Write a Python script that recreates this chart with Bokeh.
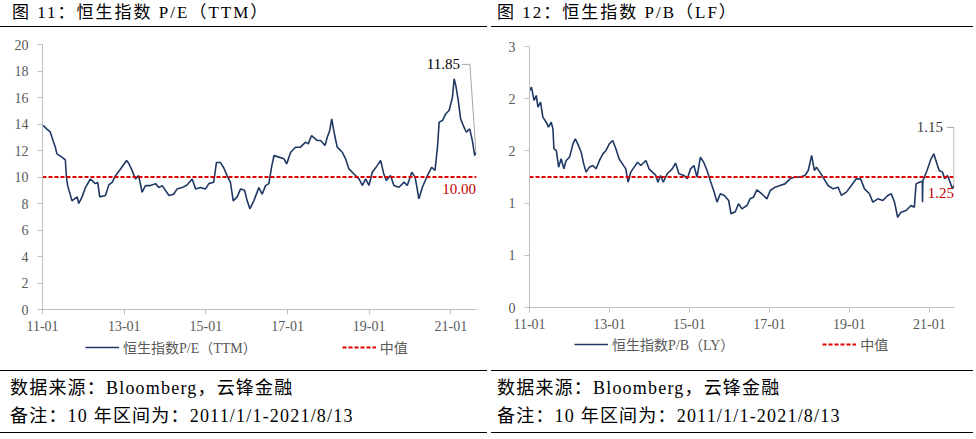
import pandas as pd
from bokeh.plotting import figure
from bokeh.models import (ColumnDataSource, Range1d, FixedTicker, Legend, LegendItem,
                          Label, Div)
from bokeh.layouts import row, column
from bokeh.embed import file_html
from bokeh.resources import INLINE

# ---------------- data ----------------
pe_dates = [
    "2011-01-06", "2011-02-12", "2011-03-11", "2011-04-05", "2011-04-26", "2011-05-10", "2011-06-24",
    "2011-07-24", "2011-08-03", "2011-08-14", "2011-09-22", "2011-11-07", "2011-11-21", "2011-12-21",
    "2012-01-20", "2012-03-04", "2012-04-18", "2012-05-09", "2012-05-27", "2012-07-17", "2012-08-16",
    "2012-09-15", "2012-10-15", "2012-11-29",
    "2013-01-22", "2013-02-12", "2013-03-12", "2013-04-11", "2013-05-10", "2013-06-10", "2013-07-10",
    "2013-08-23", "2013-10-08", "2013-11-07", "2013-12-07",
    "2014-02-05", "2014-03-19", "2014-04-19", "2014-06-03", "2014-07-17", "2014-09-01", "2014-10-01",
    "2014-11-15", "2014-12-29",
    "2015-01-28", "2015-03-12", "2015-04-06", "2015-05-11", "2015-06-10", "2015-07-10", "2015-08-09",
    "2015-09-03", "2015-10-08", "2015-11-08", "2015-12-13",
    "2016-01-06", "2016-01-30", "2016-03-05", "2016-04-19", "2016-05-19", "2016-06-18", "2016-07-18",
    "2016-08-11", "2016-09-02", "2016-10-16", "2016-11-30", "2016-12-24",
    "2017-01-29", "2017-03-13", "2017-04-27", "2017-06-11", "2017-07-05", "2017-08-04", "2017-09-24",
    "2017-10-24", "2017-12-02", "2017-12-22",
    "2018-01-13", "2018-01-31", "2018-02-21", "2018-03-21", "2018-05-05", "2018-06-04", "2018-07-04",
    "2018-08-18", "2018-10-02", "2018-11-01", "2018-12-01", "2018-12-30",
    "2019-01-29", "2019-03-14", "2019-04-13", "2019-05-12", "2019-06-03", "2019-07-11", "2019-08-10",
    "2019-09-25", "2019-11-09", "2019-12-08",
    "2020-01-17", "2020-02-16", "2020-03-21", "2020-04-21", "2020-06-05", "2020-07-13", "2020-08-12",
    "2020-09-03", "2020-09-18", "2020-10-17", "2020-11-16", "2020-12-16",
    "2021-01-15", "2021-01-30", "2021-02-14", "2021-03-08", "2021-03-29", "2021-04-28", "2021-05-19",
    "2021-06-18", "2021-07-12", "2021-08-02", "2021-08-13",
]
pe_values = [
    13.9, 13.6, 13.4, 12.75, 12.25, 11.75, 11.5, 11.3, 10.0, 9.35, 8.2, 8.5, 8.0, 8.5,
    9.2, 9.85, 9.5, 9.6, 8.5, 8.6, 9.4, 9.6, 10.1, 10.6,
    11.25, 11.0, 10.5, 9.85, 10.1, 8.85, 9.35, 9.35, 9.5, 9.2, 9.35,
    8.6, 8.7, 9.1, 9.2, 9.4, 9.85, 9.1, 9.2, 9.1,
    9.5, 9.6, 11.1, 11.1, 10.7, 10.1, 9.6, 8.2, 8.5, 9.1, 9.0,
    8.2, 7.6, 8.2, 9.2, 8.7, 9.35, 9.5, 10.74, 11.62, 11.5, 11.37, 10.99,
    11.87, 12.25, 12.25, 12.63, 12.5, 13.13, 12.75, 12.75, 12.38, 13.0,
    13.5, 14.39, 13.38, 12.25, 11.87, 11.37, 10.61, 10.23, 9.86, 9.36, 9.86, 9.36,
    10.36, 10.86, 11.25, 10.23, 9.74, 10.11, 9.36, 9.23, 9.61, 9.36,
    10.36, 9.99, 8.35, 9.23, 10.11, 10.74, 10.49, 12.25, 14.14, 14.26, 14.77, 15.02,
    16.03, 17.41, 16.9, 15.77, 14.39, 13.76, 13.38, 13.63, 12.75, 11.62, 11.85,
]
pe_median = 10.0

pb_dates = [
    "2011-01-03", "2011-01-19", "2011-02-12", "2011-03-04", "2011-03-19", "2011-04-12", "2011-05-03",
    "2011-06-03", "2011-06-24", "2011-07-18", "2011-08-03", "2011-08-12", "2011-09-03", "2011-09-24",
    "2011-10-17", "2011-11-11", "2011-12-02",
    "2012-01-02", "2012-02-02", "2012-02-23", "2012-03-17", "2012-04-17", "2012-05-10", "2012-06-01",
    "2012-07-01", "2012-08-01", "2012-09-01", "2012-10-01", "2012-11-01", "2012-11-30", "2012-12-30",
    "2013-01-30", "2013-02-28", "2013-03-29", "2013-04-29", "2013-05-29", "2013-06-20", "2013-07-14",
    "2013-08-14", "2013-09-14", "2013-10-14", "2013-11-29", "2013-12-28",
    "2014-01-28", "2014-02-28", "2014-03-19", "2014-04-13", "2014-05-07", "2014-06-12", "2014-07-28",
    "2014-08-27", "2014-09-27", "2014-11-12", "2014-12-12",
    "2015-01-11", "2015-02-11", "2015-03-11", "2015-04-11", "2015-05-11", "2015-06-11", "2015-07-10",
    "2015-08-10", "2015-09-10", "2015-10-10", "2015-11-16", "2015-12-25",
    "2016-01-16", "2016-02-24", "2016-03-24", "2016-04-24", "2016-06-09", "2016-07-08", "2016-08-08",
    "2016-09-08", "2016-10-23", "2016-12-08",
    "2017-01-08", "2017-02-22", "2017-04-07", "2017-05-22", "2017-07-07", "2017-08-22", "2017-10-06",
    "2017-11-21", "2017-12-21",
    "2018-01-21", "2018-02-15", "2018-03-06", "2018-04-06", "2018-05-05", "2018-06-20", "2018-08-05",
    "2018-09-20", "2018-10-20", "2018-12-04",
    "2019-01-19", "2019-03-04", "2019-04-13", "2019-05-19", "2019-07-03", "2019-08-03", "2019-09-18",
    "2019-11-03", "2019-12-17",
    "2020-01-18", "2020-02-17", "2020-03-17", "2020-04-17", "2020-06-02", "2020-07-17", "2020-08-16",
    "2020-09-01", "2020-10-01", "2020-10-28", "2020-10-30", "2020-11-02", "2020-11-10", "2020-12-10",
    "2021-01-16", "2021-02-10", "2021-03-01", "2021-03-31", "2021-04-30", "2021-05-21", "2021-06-15",
    "2021-07-09", "2021-07-30", "2021-08-13",
]
pb_values = [
    2.494, 2.533, 2.379, 2.437, 2.303, 2.36, 2.188, 2.13, 2.073, 2.13, 2.054, 1.824, 1.805, 1.613,
    1.709, 1.594, 1.69,
    1.728, 1.881, 1.939, 1.881, 1.785, 1.651, 1.556, 1.613, 1.632, 1.594, 1.69, 1.766, 1.805, 1.881,
    1.92, 1.824, 1.709, 1.651, 1.594, 1.44, 1.556, 1.613, 1.67, 1.632, 1.69, 1.594,
    1.556, 1.518, 1.44, 1.518, 1.44, 1.537, 1.594, 1.66, 1.537, 1.518, 1.48,
    1.594, 1.632, 1.499, 1.728, 1.67, 1.575, 1.46, 1.345, 1.211, 1.307, 1.288, 1.23,
    1.077, 1.1, 1.192, 1.134, 1.172, 1.249, 1.268, 1.352, 1.307, 1.249,
    1.345, 1.383, 1.402, 1.421, 1.479, 1.499, 1.499, 1.518, 1.575,
    1.748, 1.575, 1.613, 1.556, 1.499, 1.402, 1.364, 1.383, 1.288, 1.326,
    1.402, 1.479, 1.479, 1.364, 1.307, 1.211, 1.249, 1.23, 1.288,
    1.307, 1.211, 1.037, 1.096, 1.115, 1.172, 1.153, 1.421, 1.44, 1.45, 1.211, 1.46, 1.479, 1.575,
    1.709, 1.766, 1.69, 1.575, 1.556, 1.479, 1.518, 1.44, 1.364, 1.402,
]
pb_median = 1.5

x_tick_dates = ["2011-01-01", "2013-01-01", "2015-01-01", "2017-01-01", "2019-01-01", "2021-01-01"]
x_tick_labels = ["11-01", "13-01", "15-01", "17-01", "19-01", "21-01"]
pe_y_ticks = [0, 2, 4, 6, 8, 10, 12, 14, 16, 18, 20]
pe_y_labels = ["0", "2", "4", "6", "8", "10", "12", "14", "16", "18", "20"]
pb_y_ticks = [0, 0.6, 1.2, 1.8, 2.4, 3.0]
pb_y_labels = ["0", "1", "1", "2", "2", "3"]

pe_title = "图 11：恒生指数 P/E（TTM）"
pb_title = "图 12：恒生指数 P/B（LF）"
pe_legend = "恒生指数P/E（TTM）"
pb_legend = "恒生指数P/B（LY）"
median_legend = "中值"
pe_last_text, pe_median_text = "11.85", "10.00"
pb_last_text, pb_median_text = "1.15", "1.25"
source_text = "数据来源：Bloomberg，云锋金融"
note_text = "备注：10 年区间为：2011/1/1-2021/8/13"

# ---------------- styling ----------------
SERIF = "'Liberation Serif', 'Noto Sans CJK SC'"
NAVY = "#1f3864"
RED = "#e00000"
AX = "#bfbfbf"
TXT = "#595959"
W = 488
SERIES_STYLE = dict(line_color=NAVY, line_width=1.6)
MEDIAN_STYLE = dict(line_color=RED, line_width=2, line_dash="4 2")


def ms(d):
    return pd.Timestamp(d).value / 1e6


DAY = 86400000.0
X_START = ms("2011-01-01")


def make_panel(src, median, yticks, ylabels, ymax, height, borders,
               last_text, last_color, last_y, last_dx, leader_days, med_text, med_dy):
    bl, br, bt, bb = borders
    xs = src.data["x"]
    values = src.data["y"]
    x_end = xs[-1] + 5 * DAY
    p = figure(width=W, height=height, x_axis_type="datetime", output_backend="svg",
               toolbar_location=None, x_range=Range1d(X_START, x_end), y_range=Range1d(0, ymax),
               min_border_left=bl, min_border_right=br, min_border_top=bt, min_border_bottom=bb)
    p.grid.visible = False
    p.outline_line_color = None
    p.background_fill_color = "white"
    p.border_fill_color = "white"

    p.line("x", "y", source=src, **SERIES_STYLE)
    p.line(x=[X_START, x_end], y=[median, median], **MEDIAN_STYLE)

    p.xaxis.ticker = FixedTicker(ticks=[ms(d) for d in x_tick_dates])
    p.xaxis.major_label_overrides = {ms(d): l for d, l in zip(x_tick_dates, x_tick_labels)}
    p.yaxis.ticker = FixedTicker(ticks=yticks)
    p.yaxis.major_label_overrides = {t: l for t, l in zip(yticks, ylabels)}
    for ax in (p.xaxis, p.yaxis):
        ax.axis_line_color = AX
        ax.major_tick_line_color = AX
        ax.minor_tick_line_color = None
        ax.major_tick_out = 5
        ax.major_tick_in = 0
        ax.major_label_text_font = SERIF
        ax.major_label_text_font_size = "14px"
        ax.major_label_text_color = TXT
    p.xaxis.major_label_standoff = 6
    p.yaxis.major_label_standoff = 9

    # annotations: last-value call-out and median value
    lx = xs[-1]
    p.line(x=[lx - leader_days[0] * DAY, lx - leader_days[1] * DAY, lx],
           y=[last_y, last_y, values[-1]], line_color="#a6a6a6", line_width=1)
    p.add_layout(Label(x=lx, y=last_y, x_offset=last_dx, text=last_text, text_align="right",
                       text_baseline="middle", text_font=SERIF, text_font_size="15px",
                       text_color=last_color))
    p.add_layout(Label(x=lx, y=median + med_dy, x_offset=0, text=med_text, text_align="right",
                       text_baseline="middle", text_font=SERIF, text_font_size="15px",
                       text_color="#c00000"))
    return p


def legend_fig(src, median, height, series_label, loc, spacing):
    # a strip below the chart that only holds the legend; its y range lies far
    # above the data, so the series themselves are not visible in it
    xs = src.data["x"]
    f = figure(width=W, height=height, output_backend="svg", toolbar_location=None,
               x_axis_location=None, y_axis_location=None,
               x_range=Range1d(X_START, xs[-1]), y_range=Range1d(1000, 1001),
               min_border_left=0, min_border_right=0, min_border_top=0, min_border_bottom=0)
    f.grid.visible = False
    f.outline_line_color = None
    r1 = f.line("x", "y", source=src, **SERIES_STYLE)
    r2 = f.line(x=[X_START, xs[-1]], y=[median, median], **MEDIAN_STYLE)
    legend = Legend(items=[LegendItem(label=series_label, renderers=[r1]),
                           LegendItem(label=median_legend, renderers=[r2])],
                    orientation="horizontal", location=loc, spacing=spacing,
                    padding=0, margin=0, glyph_width=34, glyph_height=14, label_height=14,
                    label_standoff=4, label_text_font=SERIF, label_text_font_size="14px",
                    label_text_color=TXT, border_line_color=None, background_fill_alpha=0)
    f.add_layout(legend)
    return f


def title_div(text, text_left, rule_left, rule_width):
    html = (
        f'<div style="position:relative;width:{W}px;height:28px;">'
        f'<div style="position:absolute;left:{text_left}px;top:3px;font-family:{SERIF};'
        f'font-size:17px;line-height:20px;letter-spacing:2px;color:#000;white-space:nowrap;">{text}</div>'
        f'<div style="position:absolute;left:{rule_left}px;top:26px;width:{rule_width}px;height:0;'
        f'border-top:1px solid #000;"></div></div>'
    )
    return Div(text=html, width=W, height=28, margin=0)


def foot_div(text_left, rule_left, rule_width):
    line_style = (f'font-family:{SERIF};font-size:18px;line-height:20px;letter-spacing:1.2px;'
                  f'color:#000;white-space:nowrap;')
    html = (
        f'<div style="position:relative;width:{W}px;height:69px;">'
        f'<div style="position:absolute;left:{rule_left}px;top:0px;width:{rule_width}px;height:0;'
        f'border-top:1px solid #000;"></div>'
        f'<div style="position:absolute;left:{text_left}px;top:8px;{line_style}">{source_text}</div>'
        f'<div style="position:absolute;left:{text_left}px;top:36px;{line_style}">{note_text}</div>'
        f'<div style="position:absolute;left:{rule_left}px;top:62px;width:{rule_width}px;height:0;'
        f'border-top:1px solid #000;"></div></div>'
    )
    return Div(text=html, width=W, height=69, margin=0)


pe_src = ColumnDataSource(dict(x=[ms(d) for d in pe_dates], y=pe_values))
pb_src = ColumnDataSource(dict(x=[ms(d) for d in pb_dates], y=pb_values))

p1 = make_panel(pe_src, pe_median, pe_y_ticks, pe_y_labels, 20, 311, (42, 12, 16, 30),
                pe_last_text, "#000000", 18.5, -16, (125, 54), pe_median_text, -0.87)
l1 = legend_fig(pe_src, pe_median, 31, pe_legend, (43, 13), 85)
p2 = make_panel(pb_src, pb_median, pb_y_ticks, pb_y_labels, 3, 308, (41, 22, 18, 29),
                pb_last_text, "#404040", 2.07, -11, (64, 0), pb_median_text, -0.18)
l2 = legend_fig(pb_src, pb_median, 34, pb_legend, (45, 16), 88)

left = column(title_div(pe_title, 12, 0, 487), p1, l1, foot_div(10, 0, 487), spacing=0)
right = column(title_div(pb_title, 9, 3, 482), p2, l2, foot_div(9, 3, 482), spacing=0)
layout = row(left, right, spacing=0)

open("out.html", "w").write(file_html(layout, INLINE))
